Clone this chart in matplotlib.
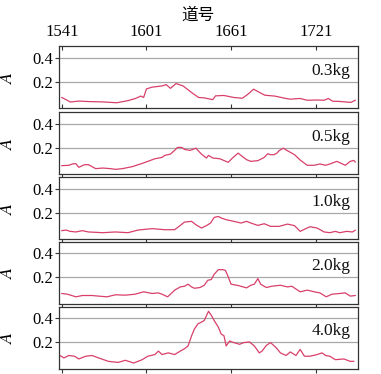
import matplotlib
matplotlib.use("Agg")
import matplotlib.pyplot as plt

plt.rcParams['font.family'] = ['Liberation Serif', 'DejaVu Serif']
plt.rcParams['mathtext.fontset'] = 'stix'

# channel numbers and absorbance
ch_03 = [1541, 1544, 1547, 1553, 1560, 1570, 1580, 1588, 1593, 1597, 1599, 1601, 1605, 1612,
         1615, 1618, 1622, 1627, 1633, 1638, 1642, 1648, 1650, 1656, 1663, 1669, 1673,
         1677, 1680, 1685, 1692, 1699, 1703, 1710, 1715, 1722, 1727, 1730, 1733, 1738, 1746, 1749]
a_03 = [0.068, 0.050, 0.030, 0.038, 0.034, 0.031, 0.024, 0.042, 0.059, 0.080, 0.068, 0.140,
        0.155, 0.165, 0.176, 0.145, 0.185, 0.165, 0.110, 0.068, 0.065, 0.050, 0.082,
        0.085, 0.068, 0.062, 0.096, 0.138, 0.118, 0.087, 0.080, 0.062, 0.054, 0.060, 0.045,
        0.047, 0.045, 0.060, 0.037, 0.035, 0.027, 0.045]

ch_05 = [1541, 1546, 1548.5, 1551, 1553, 1557, 1560, 1565, 1570, 1575.5, 1579, 1584, 1591,
         1598, 1602, 1607, 1612, 1614, 1618, 1621, 1623, 1626, 1628, 1632, 1636, 1640, 1643.5,
         1645, 1648, 1653, 1659, 1662, 1666, 1668, 1672, 1675, 1680, 1684.5, 1687, 1689, 1691.5,
         1693.5, 1695, 1698, 1701, 1706, 1710, 1715, 1720, 1724, 1728, 1731, 1736, 1742, 1745.5,
         1748, 1749]
a_05 = [0.050, 0.053, 0.064, 0.067, 0.036, 0.058, 0.058, 0.025, 0.030, 0.025, 0.019, 0.025,
        0.042, 0.069, 0.086, 0.108, 0.119, 0.136, 0.147, 0.178, 0.203, 0.203, 0.186, 0.178,
        0.197, 0.147, 0.114, 0.136, 0.114, 0.108, 0.078, 0.114, 0.155, 0.136, 0.100, 0.086,
        0.092, 0.119, 0.150, 0.142, 0.142, 0.155, 0.175, 0.197, 0.175, 0.142, 0.097, 0.053,
        0.053, 0.064, 0.053, 0.064, 0.086, 0.053, 0.086, 0.094, 0.081]

ch_10 = [1541, 1544, 1547, 1551, 1555.5, 1560, 1570, 1579, 1588, 1595, 1605, 1614, 1621,
         1625, 1628, 1633, 1636, 1640, 1643.5, 1646.5, 1649, 1652, 1654, 1657.5, 1663, 1668,
         1672, 1675, 1680, 1684.5, 1689, 1695, 1701, 1706, 1710, 1714, 1717, 1722, 1727, 1731,
         1735, 1738, 1743, 1747, 1749]
a_10 = [0.050, 0.055, 0.044, 0.039, 0.050, 0.039, 0.033, 0.039, 0.033, 0.055, 0.067, 0.058,
        0.058, 0.094, 0.122, 0.128, 0.100, 0.072, 0.092, 0.114, 0.161, 0.169, 0.156, 0.142,
        0.128, 0.114, 0.128, 0.114, 0.094, 0.108, 0.086, 0.086, 0.105, 0.092, 0.044, 0.067,
        0.083, 0.072, 0.039, 0.033, 0.044, 0.033, 0.044, 0.039, 0.053]

ch_20 = [1541, 1545, 1551, 1555.5, 1562.5, 1567, 1573, 1579, 1586, 1593, 1599, 1605, 1609.5,
         1612, 1616, 1619, 1621, 1625, 1628, 1630.5, 1633, 1635, 1639, 1642, 1644.5, 1647,
         1649, 1652, 1655, 1657, 1659, 1661, 1666, 1672, 1675, 1677.5, 1680, 1682, 1686, 1690,
         1696, 1701, 1704, 1710, 1715, 1720, 1724, 1728.5, 1732.5, 1738, 1742, 1745.5, 1749]
a_20 = [0.064, 0.058, 0.036, 0.047, 0.047, 0.042, 0.036, 0.053, 0.050, 0.058, 0.078, 0.064,
        0.069, 0.058, 0.036, 0.069, 0.092, 0.119, 0.125, 0.142, 0.119, 0.108, 0.114, 0.133,
        0.175, 0.181, 0.225, 0.264, 0.264, 0.258, 0.203, 0.142, 0.131, 0.111, 0.133, 0.142,
        0.189, 0.142, 0.114, 0.125, 0.133, 0.119, 0.125, 0.078, 0.092, 0.078, 0.069, 0.036,
        0.058, 0.064, 0.069, 0.042, 0.047]

ch_40 = [1539.6, 1542.5, 1546, 1550, 1553, 1558, 1562.5, 1567, 1574, 1581, 1586, 1592, 1598,
         1602, 1607, 1609.5, 1612, 1616.5, 1621, 1625, 1628, 1630.5, 1633, 1635, 1637.5, 1640,
         1642, 1645, 1647, 1649, 1652, 1654, 1656, 1657.5, 1660, 1663, 1667, 1670, 1674,
         1677.5, 1681, 1683, 1686, 1689, 1693, 1696, 1700, 1703, 1707, 1710, 1713, 1717, 1722,
         1725.5, 1728, 1731, 1735, 1741, 1745.5, 1748]
a_40 = [0.089, 0.069, 0.089, 0.083, 0.060, 0.083, 0.089, 0.069, 0.040, 0.031, 0.049, 0.026,
        0.054, 0.083, 0.097, 0.126, 0.097, 0.111, 0.097, 0.126, 0.146, 0.169, 0.254, 0.311,
        0.354, 0.369, 0.383, 0.460, 0.426, 0.383, 0.326, 0.269, 0.254, 0.169, 0.211, 0.197,
        0.183, 0.197, 0.203, 0.169, 0.111, 0.126, 0.174, 0.197, 0.154, 0.111, 0.089, 0.119,
        0.089, 0.140, 0.083, 0.083, 0.097, 0.111, 0.089, 0.083, 0.054, 0.060, 0.040, 0.040]

loads = ['0.3kg', '0.5kg', '1.0kg', '2.0kg', '4.0kg']
channels = [ch_03, ch_05, ch_10, ch_20, ch_40]
absorb = [a_03, a_05, a_10, a_20, a_40]
x_ticks = [1541, 1601, 1661, 1721]
y_ticks = [0.2, 0.4]

W, H = 381, 374
fig = plt.figure(figsize=(W / 100, H / 100), dpi=100)

left, right = 59, 358
tops = [46, 112, 177, 241.5, 306.5]
hgt = 62
line_col = '#d8406a'

for i, (lab, xs, ys) in enumerate(zip(loads, channels, absorb)):
    ax = fig.add_axes([left / W, 1 - (tops[i] + hgt) / H, (right - left) / W, hgt / H])
    for yv in y_ticks:
        ax.axhline(yv, color='#a8a8a8', lw=0.9, zorder=1)
    ax.plot(xs, ys, color=line_col, lw=0.9, zorder=2)
    ax.set_xlim(1539, 1751)
    ax.set_ylim(-0.02, 0.5)
    ax.set_xticks(x_ticks)
    ax.set_yticks(y_ticks)
    ax.set_yticklabels(['0.2', '0.4'], fontsize=12)
    ax.tick_params(axis='y', length=3, width=0.8, pad=1.5, color='#333333')
    if i == 0:
        ax.xaxis.tick_top()
        ax.tick_params(axis='x', direction='in', length=3, width=0.8, pad=4,
                       labelsize=12, color='#333333', bottom=True)
    else:
        ax.tick_params(axis='x', length=3, width=0.8, labelbottom=False, color='#333333')
    for sp in ax.spines.values():
        sp.set_color('#333333')
        sp.set_linewidth(0.9)
    ax.text(0.975, 0.60, lab, transform=ax.transAxes, ha='right', va='center',
            fontsize=12.5, color='#111111')
    ax.set_ylabel('$A$', fontsize=13)
    ax.yaxis.set_label_coords(-0.145, 0.5)

fig.text(198 / W, 1 - 15 / H, '道号', ha='center', va='center', fontsize=12,
         fontweight='medium', family=['Noto Sans CJK SC', 'DejaVu Sans'])

fig.savefig('out.png', dpi=100)
